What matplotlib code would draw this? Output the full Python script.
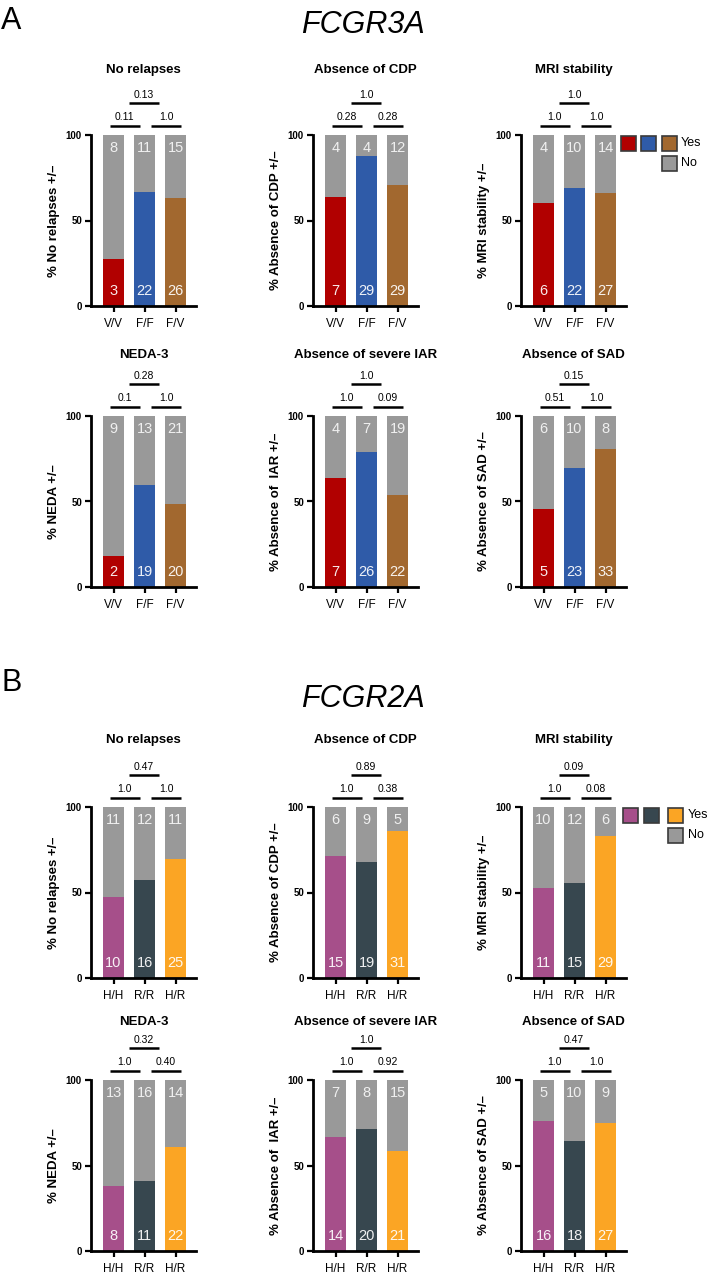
import matplotlib
matplotlib.use("Agg")
import matplotlib.pyplot as plt
from matplotlib.patches import Rectangle

plt.rcParams['font.family'] = ['Liberation Sans', 'DejaVu Sans']

# ---------------- data ----------------
titles = ["No relapses", "Absence of CDP", "MRI stability",
          "NEDA-3", "Absence of severe IAR", "Absence of SAD"]
ylabels = ["% No relapses +/\u2013", "% Absence of CDP +/\u2013", "% MRI stability +/\u2013",
           "% NEDA +/\u2013", "% Absence of  IAR +/\u2013", "% Absence of SAD +/\u2013"]

groups_a = ["V/V", "F/F", "F/V"]
yes_a = [[3, 22, 26], [7, 29, 29], [6, 22, 27], [2, 19, 20], [7, 26, 22], [5, 23, 33]]
no_a = [[8, 11, 15], [4, 4, 12], [4, 10, 14], [9, 13, 21], [4, 7, 19], [6, 10, 8]]
# p-values: (first vs second, second vs third, first vs third)
p_a = [["0.11", "1.0", "0.13"], ["0.28", "0.28", "1.0"], ["1.0", "1.0", "1.0"],
       ["0.1", "1.0", "0.28"], ["1.0", "0.09", "1.0"], ["0.51", "1.0", "0.15"]]
colors_a = ["#B10000", "#2F5BA8", "#A2682F"]

groups_b = ["H/H", "R/R", "H/R"]
yes_b = [[10, 16, 25], [15, 19, 31], [11, 15, 29], [8, 11, 22], [14, 20, 21], [16, 18, 27]]
no_b = [[11, 12, 11], [6, 9, 5], [10, 12, 6], [13, 16, 14], [7, 8, 15], [5, 10, 9]]
p_b = [["1.0", "1.0", "0.47"], ["1.0", "0.38", "0.89"], ["1.0", "0.08", "0.09"],
       ["1.0", "0.40", "0.32"], ["1.0", "0.92", "1.0"], ["1.0", "1.0", "0.47"]]
colors_b = ["#A64F8A", "#37474F", "#FBA524"]

no_color = "#999999"

# ---------------- layout ----------------
W, H = 709, 1277
fig = plt.figure(figsize=(W / 100, H / 100), dpi=100)

col_left = [91, 313, 521]
ax_w = 105
row_top = [135, 416, 807, 1080]
ax_h = 171
title_off = [65, 61, 67, 58]

bracket_x = [(-0.12, 0.84), (1.22, 2.17), (0.5, 1.47)]
bracket_y = [105.3, 105.3, 118.5]


def make_panel(row, col, title, ylabel, groups, yes, no, pvals, colors):
    left = col_left[col]
    top = row_top[row]
    ax = fig.add_axes([left / W, 1 - (top + ax_h) / H, ax_w / W, ax_h / H])
    x = list(range(len(groups)))
    tot = [y + n for y, n in zip(yes, no)]
    pct_yes = [100.0 * y / t for y, t in zip(yes, tot)]
    pct_no = [100.0 - p for p in pct_yes]
    ax.bar(x, pct_yes, width=0.68, color=colors, edgecolor='none')
    ax.bar(x, pct_no, bottom=pct_yes, width=0.68, color=no_color, edgecolor='none')
    for xi, yv, nv in zip(x, yes, no):
        ax.text(xi, 8.8, str(yv), ha='center', va='center', fontsize=10.5,
                color='white', alpha=0.92)
        ax.text(xi, 92.5, str(nv), ha='center', va='center', fontsize=10.5,
                color='#F0F0F0')
    ax.set_xlim(-0.726, 2.66)
    ax.set_ylim(0, 100)
    ax.set_yticks([0, 50, 100])
    ax.set_yticklabels(["0", "50", "100"], fontweight='bold', fontsize=7)
    ax.set_xticks(x)
    ax.set_xticklabels(groups, fontsize=8.5)
    ax.tick_params(axis='both', length=4.5, width=1.6, pad=2, color='black')
    ax.tick_params(axis='x', pad=4)
    for s in ['top', 'right']:
        ax.spines[s].set_visible(False)
    for s in ['left', 'bottom']:
        ax.spines[s].set_linewidth(2)
    ax.set_ylabel(ylabel, fontweight='bold', fontsize=9.5)
    ax.yaxis.set_label_coords(-31 / ax_w, 0.5)
    ax.text(0.5, 1 + title_off[row] / ax_h, title, transform=ax.transAxes,
            ha='center', va='center', fontweight='bold', fontsize=9.5)
    for (x0, x1), yb, pv in zip(bracket_x, bracket_y, pvals):
        ax.plot([x0, x1], [yb, yb], color='black', lw=1.8, clip_on=False,
                solid_capstyle='butt')
        ax.text((x0 + x1) / 2, yb + 2.2, pv, ha='center', va='bottom',
                fontsize=7.5, clip_on=False)
    return ax


for i in range(6):
    r, c = divmod(i, 3)
    make_panel(r, c, titles[i], ylabels[i], groups_a, yes_a[i], no_a[i], p_a[i], colors_a)
    make_panel(r + 2, c, titles[i], ylabels[i], groups_b, yes_b[i], no_b[i], p_b[i], colors_b)

# section labels
fig.text(1 / W, 1 - 21 / H, "A", fontsize=22, ha='left', va='center')
fig.text(363 / W, 1 - 25 / H, "FCGR3A", fontsize=22, style='italic', ha='center', va='center')
fig.text(1 / W, 1 - 683 / H, "B", fontsize=22, ha='left', va='center')
fig.text(363 / W, 1 - 699 / H, "FCGR2A", fontsize=22, style='italic', ha='center', va='center')


# legends
def legend(xs, y_yes, y_no, colors, x_text):
    sz = 15
    for xx, cc in zip(xs, colors):
        fig.patches.append(Rectangle((xx / W, 1 - (y_yes + sz) / H), sz / W, sz / H,
                                     transform=fig.transFigure, facecolor=cc,
                                     edgecolor='#3a3a3a', linewidth=1.2))
    fig.patches.append(Rectangle((xs[-1] / W, 1 - (y_no + sz) / H), sz / W, sz / H,
                                 transform=fig.transFigure, facecolor=no_color,
                                 edgecolor='#3a3a3a', linewidth=1.2))
    fig.text(x_text / W, 1 - (y_yes + sz / 2) / H, "Yes", fontsize=9, va='center', ha='left')
    fig.text(x_text / W, 1 - (y_no + sz / 2) / H, "No", fontsize=9, va='center', ha='left')


legend([621, 641, 662], 136, 156, colors_a, 681)
legend([623, 644, 668], 808, 828, colors_b, 688)

fig.savefig("out.png", dpi=100)
